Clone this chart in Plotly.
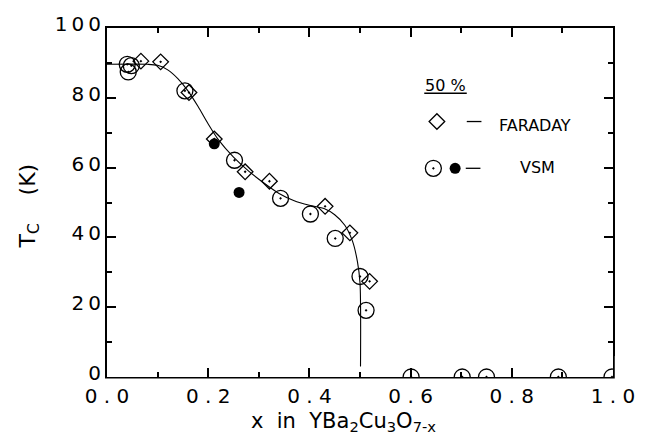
import plotly.graph_objects as go

# ---- data ----
faraday_x = [0.067, 0.106, 0.162, 0.212, 0.273, 0.321, 0.431, 0.480, 0.519]
faraday_y = [90.5, 90.3, 81.5, 68.2, 58.8, 56.1, 48.9, 41.3, 27.4]

vsm_open_x = [0.040, 0.042, 0.048, 0.154, 0.252, 0.343, 0.402, 0.451, 0.500, 0.512,
              0.601, 0.702, 0.750, 0.892, 0.998]
vsm_open_y = [89.6, 87.4, 89.2, 82.0, 62.1, 51.2, 46.7, 39.7, 28.8, 19.1,
              0, 0, 0, 0, 0]

vsm_fill_x = [0.212, 0.261]
vsm_fill_y = [66.8, 52.9]

curve_x = [0.0, 0.08, 0.10, 0.12, 0.14, 0.16, 0.18, 0.20, 0.22, 0.25, 0.28, 0.31,
           0.34, 0.37, 0.40, 0.43, 0.45, 0.47, 0.485, 0.495, 0.500, 0.501]
curve_y = [89.6, 89.6, 89.3, 88.0, 85.5, 82.0, 77.5, 72.5, 68.0, 63.0, 59.0, 55.6,
           52.6, 50.5, 49.2, 48.2, 46.5, 43.5, 39.0, 33.0, 27.0, 3.0]

x_tickvals = [0.0, 0.2, 0.4, 0.6, 0.8, 1.0]
x_ticktext = ["0 . 0", "0 . 2", "0 . 4", "0 . 6", "0 . 8", "1 . 0"]
y_tickvals = [0, 20, 40, 60, 80, 100]
y_ticktext = ["0", "2\u20090", "4\u20090", "6\u20090", "8\u20090", "1\u20090\u20090"]

FONT = "DejaVu Sans"

fig = go.Figure()

fig.add_trace(go.Scatter(x=curve_x, y=curve_y, mode="lines",
                         line=dict(color="black", width=1.1, shape="spline", smoothing=0.8),
                         showlegend=False, hoverinfo="skip"))

fig.add_trace(go.Scatter(x=faraday_x, y=faraday_y, mode="markers",
                         marker=dict(symbol="diamond-open-dot", size=12, color="black",
                                     line=dict(width=1.3, color="black")),
                         showlegend=False, cliponaxis=True))

fig.add_trace(go.Scatter(x=vsm_open_x, y=vsm_open_y, mode="markers",
                         marker=dict(symbol="circle-open-dot", size=16, color="black",
                                     line=dict(width=1.3, color="black")),
                         showlegend=False, cliponaxis=True))

fig.add_trace(go.Scatter(x=vsm_fill_x, y=vsm_fill_y, mode="markers",
                         marker=dict(symbol="circle", size=11, color="black"),
                         showlegend=False, cliponaxis=True))

# ---- custom legend keys (small separate hidden subplot, coordinates = paper fractions) ----
LEG_X = [0.58, 0.80]
LEG_Y = [0.52, 0.80]
fig.add_trace(go.Scatter(x=[0.652], y=[0.732], xaxis="x2", yaxis="y2", mode="markers",
                         marker=dict(symbol="diamond-open", size=12, color="black",
                                     line=dict(width=1.3, color="black")),
                         showlegend=False, hoverinfo="skip", cliponaxis=False))
fig.add_trace(go.Scatter(x=[0.645], y=[0.598], xaxis="x2", yaxis="y2", mode="markers",
                         marker=dict(symbol="circle-open-dot", size=16, color="black",
                                     line=dict(width=1.3, color="black")),
                         showlegend=False, hoverinfo="skip", cliponaxis=False))
fig.add_trace(go.Scatter(x=[0.688], y=[0.598], xaxis="x2", yaxis="y2", mode="markers",
                         marker=dict(symbol="circle", size=11, color="black"),
                         showlegend=False, hoverinfo="skip", cliponaxis=False))

shapes = [
    # masks that clip markers sitting on the frame (below the x axis / right of the right axis)
    dict(type="rect", xref="paper", yref="paper", x0=-0.01, x1=1.05, y0=-0.0045, y1=-0.029,
         fillcolor="white", line=dict(width=0), layer="above"),
    dict(type="rect", xref="paper", yref="paper", x0=1.0035, x1=1.04, y0=-0.03, y1=0.06,
         fillcolor="white", line=dict(width=0), layer="above"),
    # legend underline and dashes
    dict(type="line", xref="paper", yref="paper", x0=0.627, x1=0.711, y0=0.813, y1=0.813,
         line=dict(color="black", width=1.5)),
    dict(type="line", xref="paper", yref="paper", x0=0.711, x1=0.740, y0=0.732, y1=0.732,
         line=dict(color="black", width=1.3)),
    dict(type="line", xref="paper", yref="paper", x0=0.709, x1=0.738, y0=0.598, y1=0.598,
         line=dict(color="black", width=1.3)),
]

annotations = [
    dict(text="50 %", xref="paper", yref="paper", x=0.669, y=0.835, showarrow=False,
         font=dict(family=FONT, size=16, color="black"), xanchor="center", yanchor="middle"),
    dict(text="FARADAY", xref="paper", yref="paper", x=0.770, y=0.722, showarrow=False,
         font=dict(family=FONT, size=16, color="black"), xanchor="left", yanchor="middle"),
    dict(text="VSM", xref="paper", yref="paper", x=0.812, y=0.601, showarrow=False,
         font=dict(family=FONT, size=16, color="black"), xanchor="left", yanchor="middle"),
    dict(text="x  in  YBa<sub>2</sub>Cu<sub>3</sub>O<sub>7-x</sub>", xref="paper", yref="paper",
         x=0.468, y=-0.13, showarrow=False, xanchor="center", yanchor="middle",
         font=dict(family=FONT, size=21, color="black")),
    dict(text="T<sub>C</sub>\u00a0\u00a0\u00a0\u00a0(K)", xref="paper", yref="paper",
         x=-0.153, y=0.49, showarrow=False, textangle=-90, xanchor="center", yanchor="middle",
         font=dict(family=FONT, size=22, color="black")),
]

axis_common = dict(
    showline=True, linecolor="black", linewidth=2, mirror="allticks",
    ticks="inside", ticklen=9, tickwidth=1.5, tickcolor="black",
    showgrid=False, zeroline=False,
    tickfont=dict(family=FONT, size=20, color="black"),
)

fig.update_layout(
    width=647, height=439,
    margin=dict(l=107, r=25, t=26, b=62),
    paper_bgcolor="white", plot_bgcolor="rgba(0,0,0,0)",
    xaxis=dict(range=[0, 1], tickvals=x_tickvals, ticktext=x_ticktext, domain=[0, 1],
               minor=dict(ticks="inside", ticklen=5, tickwidth=1.5, tickcolor="black",
                          tickvals=[0.1, 0.3, 0.5, 0.7, 0.9], showgrid=False),
               **axis_common),
    yaxis=dict(range=[0, 100], tickvals=y_tickvals, ticktext=y_ticktext, domain=[0, 1],
               ticklabelshift=-4,
               minor=dict(ticks="inside", ticklen=5, tickwidth=1.5, tickcolor="black",
                          tickvals=[10, 30, 50, 70, 90], showgrid=False),
               **axis_common),
    xaxis2=dict(range=LEG_X, domain=LEG_X, anchor="y2", visible=False, fixedrange=True),
    yaxis2=dict(range=LEG_Y, domain=LEG_Y, anchor="x2", visible=False, fixedrange=True),
    shapes=shapes,
    annotations=annotations,
    showlegend=False,
)

fig.write_html("out.html")
